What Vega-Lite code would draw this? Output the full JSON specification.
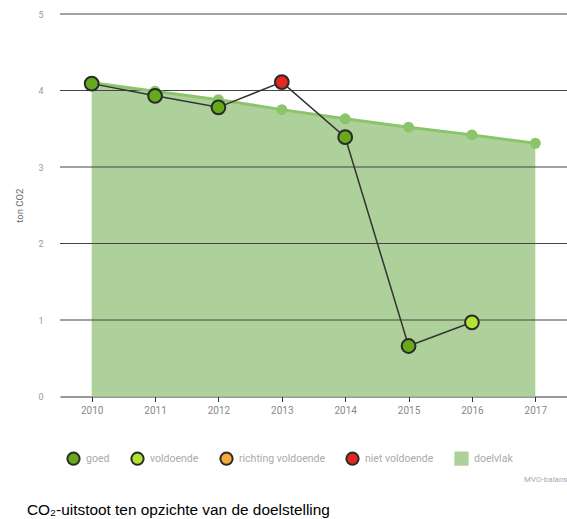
{
  "$schema": "https://vega.github.io/schema/vega-lite/v6.json",
  "width": 507,
  "height": 382.5,
  "autosize": {"type": "none"},
  "padding": {"left": 60, "top": 14, "right": 0, "bottom": 122},
  "background": "white",
  "config": {
    "view": {"stroke": null},
    "font": "Roboto",
    "legend": {
      "orient": "none",
      "legendX": 6,
      "legendY": 437,
      "direction": "horizontal",
      "title": null,
      "labelFontSize": 10.5,
      "labelColor": "#aaaaaa",
      "labelFont": "Roboto",
      "symbolSize": 150,
      "symbolStrokeWidth": 2,
      "columnPadding": 17,
      "labelOffset": 5
    }
  },
  "title": {
    "text": "CO₂-uitstoot ten opzichte van de doelstelling",
    "orient": "bottom",
    "anchor": "start",
    "frame": "group",
    "dx": -33,
    "offset": 19,
    "font": "Liberation Sans",
    "fontSize": 15.4,
    "fontWeight": "normal",
    "color": "#000000"
  },
  "data": {
    "values": [
      {"year": 2010, "target": 4.10, "actual": 4.09, "status": "goed"},
      {"year": 2011, "target": 3.99, "actual": 3.93, "status": "goed"},
      {"year": 2012, "target": 3.88, "actual": 3.78, "status": "goed"},
      {"year": 2013, "target": 3.75, "actual": 4.11, "status": "niet voldoende"},
      {"year": 2014, "target": 3.63, "actual": 3.39, "status": "goed"},
      {"year": 2015, "target": 3.52, "actual": 0.66, "status": "goed"},
      {"year": 2016, "target": 3.42, "actual": 0.97, "status": "voldoende"},
      {"year": 2017, "target": 3.31, "actual": null, "status": null}
    ]
  },
  "encoding": {
    "x": {
      "field": "year",
      "type": "quantitative",
      "scale": {"domain": [2009.5, 2017.5], "nice": false, "zero": false},
      "axis": {
        "values": [2010, 2011, 2012, 2013, 2014, 2015, 2016, 2017],
        "format": "d",
        "grid": false,
        "domainColor": "#333333",
        "tickColor": "#333333",
        "tickSize": 5,
        "labelColor": "#888888",
        "labelFontSize": 10,
        "labelPadding": 4,
        "title": "MVO-balans",
        "titleX": 507,
        "titleY": 79,
        "titleAlign": "right",
        "titleBaseline": "top",
        "titleColor": "#aaaaaa",
        "titleFontSize": 8,
        "titleFontWeight": "normal"
      }
    }
  },
  "layer": [
    {
      "mark": {"type": "area", "color": "#aed19b", "opacity": 1},
      "encoding": {
        "y": {
          "field": "target",
          "type": "quantitative",
          "scale": {"domain": [0, 5], "nice": false},
          "axis": {
            "values": [0, 1, 2, 3, 4, 5],
            "format": "d",
            "grid": false,
            "domain": false,
            "ticks": false,
            "labelColor": "#999999",
            "labelFontSize": 9,
            "labelPadding": 17,
            "title": "ton CO2",
            "titleColor": "#666666",
            "titleFontSize": 9.5,
            "titleFontWeight": "normal",
            "titlePadding": 13
          }
        }
      }
    },
    {
      "data": {"values": [{"g": 1}, {"g": 2}, {"g": 3}, {"g": 4}, {"g": 5}]},
      "mark": {"type": "rule", "color": "#444444", "strokeWidth": 1},
      "encoding": {
        "x": {"value": 0},
        "x2": {"value": 507},
        "y": {"field": "g", "type": "quantitative"}
      }
    },
    {
      "mark": {"type": "line", "color": "#8cc46c", "strokeWidth": 3},
      "encoding": {"y": {"field": "target", "type": "quantitative"}}
    },
    {
      "mark": {"type": "point", "filled": true, "color": "#8cc46c", "size": 120, "opacity": 1},
      "encoding": {"y": {"field": "target", "type": "quantitative"}}
    },
    {
      "transform": [{"filter": "datum.actual != null"}],
      "mark": {"type": "line", "color": "#333333", "strokeWidth": 1.5},
      "encoding": {"y": {"field": "actual", "type": "quantitative"}}
    },
    {
      "transform": [{"filter": "datum.actual != null"}],
      "mark": {"type": "point", "filled": true, "size": 190, "strokeWidth": 2, "opacity": 1},
      "encoding": {
        "y": {"field": "actual", "type": "quantitative"},
        "color": {
          "field": "status",
          "type": "nominal",
          "scale": {
            "domain": ["goed", "voldoende", "richting voldoende", "niet voldoende", "doelvlak"],
            "range": ["#66aa1c", "#b3e530", "#f7a93a", "#e3281f", "#aed19b"]
          }
        },
        "shape": {
          "field": "status",
          "type": "nominal",
          "scale": {
            "domain": ["goed", "voldoende", "richting voldoende", "niet voldoende", "doelvlak"],
            "range": ["circle", "circle", "circle", "circle", "square"]
          }
        },
        "stroke": {
          "field": "status",
          "type": "nominal",
          "scale": {
            "domain": ["goed", "voldoende", "richting voldoende", "niet voldoende", "doelvlak"],
            "range": ["#2a2a2a", "#2a2a2a", "#2a2a2a", "#2a2a2a", "#aed19b"]
          }
        }
      }
    }
  ]
}
